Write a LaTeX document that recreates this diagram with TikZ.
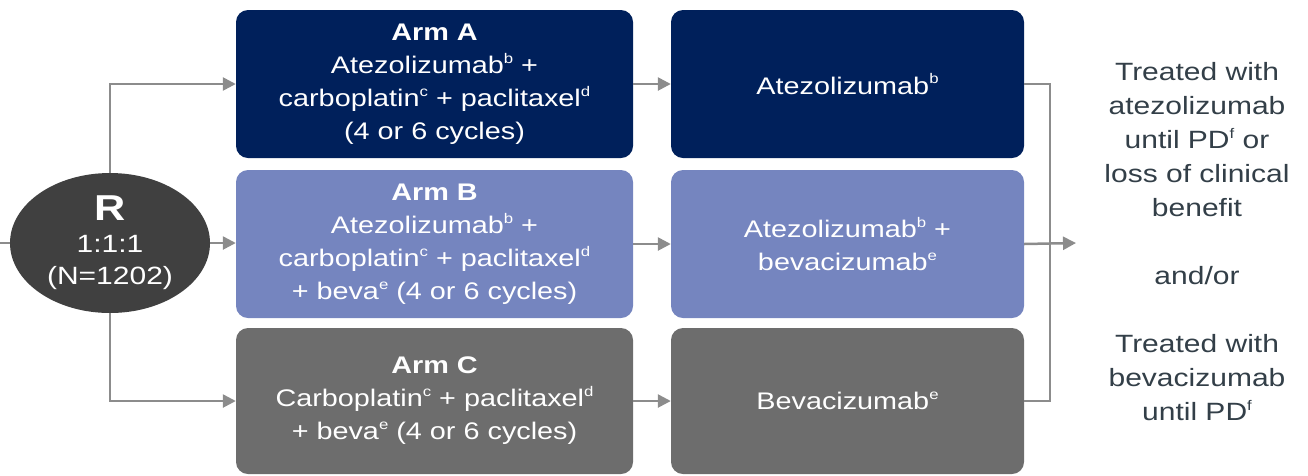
\documentclass[tikz,border=0pt]{standalone}
\usepackage{fontspec}
\setmainfont{Liberation Sans}[FakeStretch=1.2]
\usetikzlibrary{arrows.meta,positioning,calc,shapes.geometric}
\definecolor{armAfill}{HTML}{00205B}
\definecolor{armBfill}{HTML}{7585BF}
\definecolor{armCfill}{HTML}{6D6D6D}
\definecolor{randfill}{HTML}{404040}
\definecolor{linkc}{HTML}{8C8C8C}
\definecolor{outtext}{HTML}{333F48}
\newcommand{\fn}[1]{\raisebox{0.42em}{\fontsize{14}{14}\selectfont #1}}
\tikzset{
  armbox/.style={fill=#1, rounded corners=12pt, minimum width=397pt, minimum height=148pt,
               text=white, align=center, inner sep=0pt, font=\fontsize{24}{33}\selectfont},
  mainbox/.style={armbox=#1, minimum width=353pt},
  randnode/.style={ellipse, fill=randfill, text=white, minimum width=200pt, minimum height=140pt,
               inner sep=0pt, align=center, font=\fontsize{25}{32}\selectfont},
  outnode/.style={text=outtext, align=center, font=\fontsize{25}{34}\selectfont},
  link/.style={draw=linkc, line width=2.5pt},
  flow/.style={link, -{Triangle[length=13pt,width=13pt]}},
}
\def\cArm{434.5}
\def\cMain{847.5}
\def\yA{84}
\def\yB{244}
\def\yC{401}

\begin{document}
\begin{tikzpicture}[x=1pt, y=-1pt]
  \useasboundingbox (0,0) rectangle (1308,475);
  \node[randnode] (rnd) at (110,243) {{\fontsize{36}{38}\selectfont\bfseries R}\\1:1:1\\(N=1202)};
  \node[armbox=armAfill] (armA) at (\cArm,\yA) {\textbf{Arm A}\\Atezolizumab\fn{b} +\\carboplatin\fn{c} + paclitaxel\fn{d}\\(4 or 6 cycles)};
  \node[armbox=armBfill] (armB) at (\cArm,\yB) {\textbf{Arm B}\\Atezolizumab\fn{b} +\\carboplatin\fn{c} + paclitaxel\fn{d}\\+ beva\fn{e} (4 or 6 cycles)};
  \node[armbox=armCfill, minimum height=146pt] (armC) at (\cArm,\yC) {\textbf{Arm C}\\Carboplatin\fn{c} + paclitaxel\fn{d}\\+ beva\fn{e} (4 or 6 cycles)};
  \node[mainbox=armAfill] (mainA) at (\cMain,\yA) {Atezolizumab\fn{b}};
  \node[mainbox=armBfill] (mainB) at (\cMain,\yB) {Atezolizumab\fn{b} +\\bevacizumab\fn{e}};
  \node[mainbox=armCfill, minimum height=146pt] (mainC) at (\cMain,\yC) {Bevacizumab\fn{e}};
  \node[outnode] (out) at (1197,242) {Treated with\\atezolizumab\\until PD\fn{f} or\\loss of clinical\\benefit\\\mbox{}\\and/or\\\mbox{}\\Treated with\\bevacizumab\\until PD\fn{f}};
  \coordinate (entry) at (0,243);
  \coordinate (join) at (1050,243);
  \coordinate (exit) at (1076,243);
  % randomisation
  \draw[link] (entry) -- (rnd.west);
  \draw[flow] (rnd.north) |- (armA.west);
  \draw[flow] (rnd.east) -- (rnd.east -| armB.west);
  \draw[flow] (rnd.south) |- (armC.west);
  % induction to maintenance
  \draw[flow] (armA) -- (mainA);
  \draw[flow] (armB) -- (mainB);
  \draw[flow] (armC) -- (mainC);
  % bracket
  \draw[link] (mainA.east) -| (join) |- (mainC.east);
  \draw[flow] (mainB.east) -- (exit);
\end{tikzpicture}
\end{document}
